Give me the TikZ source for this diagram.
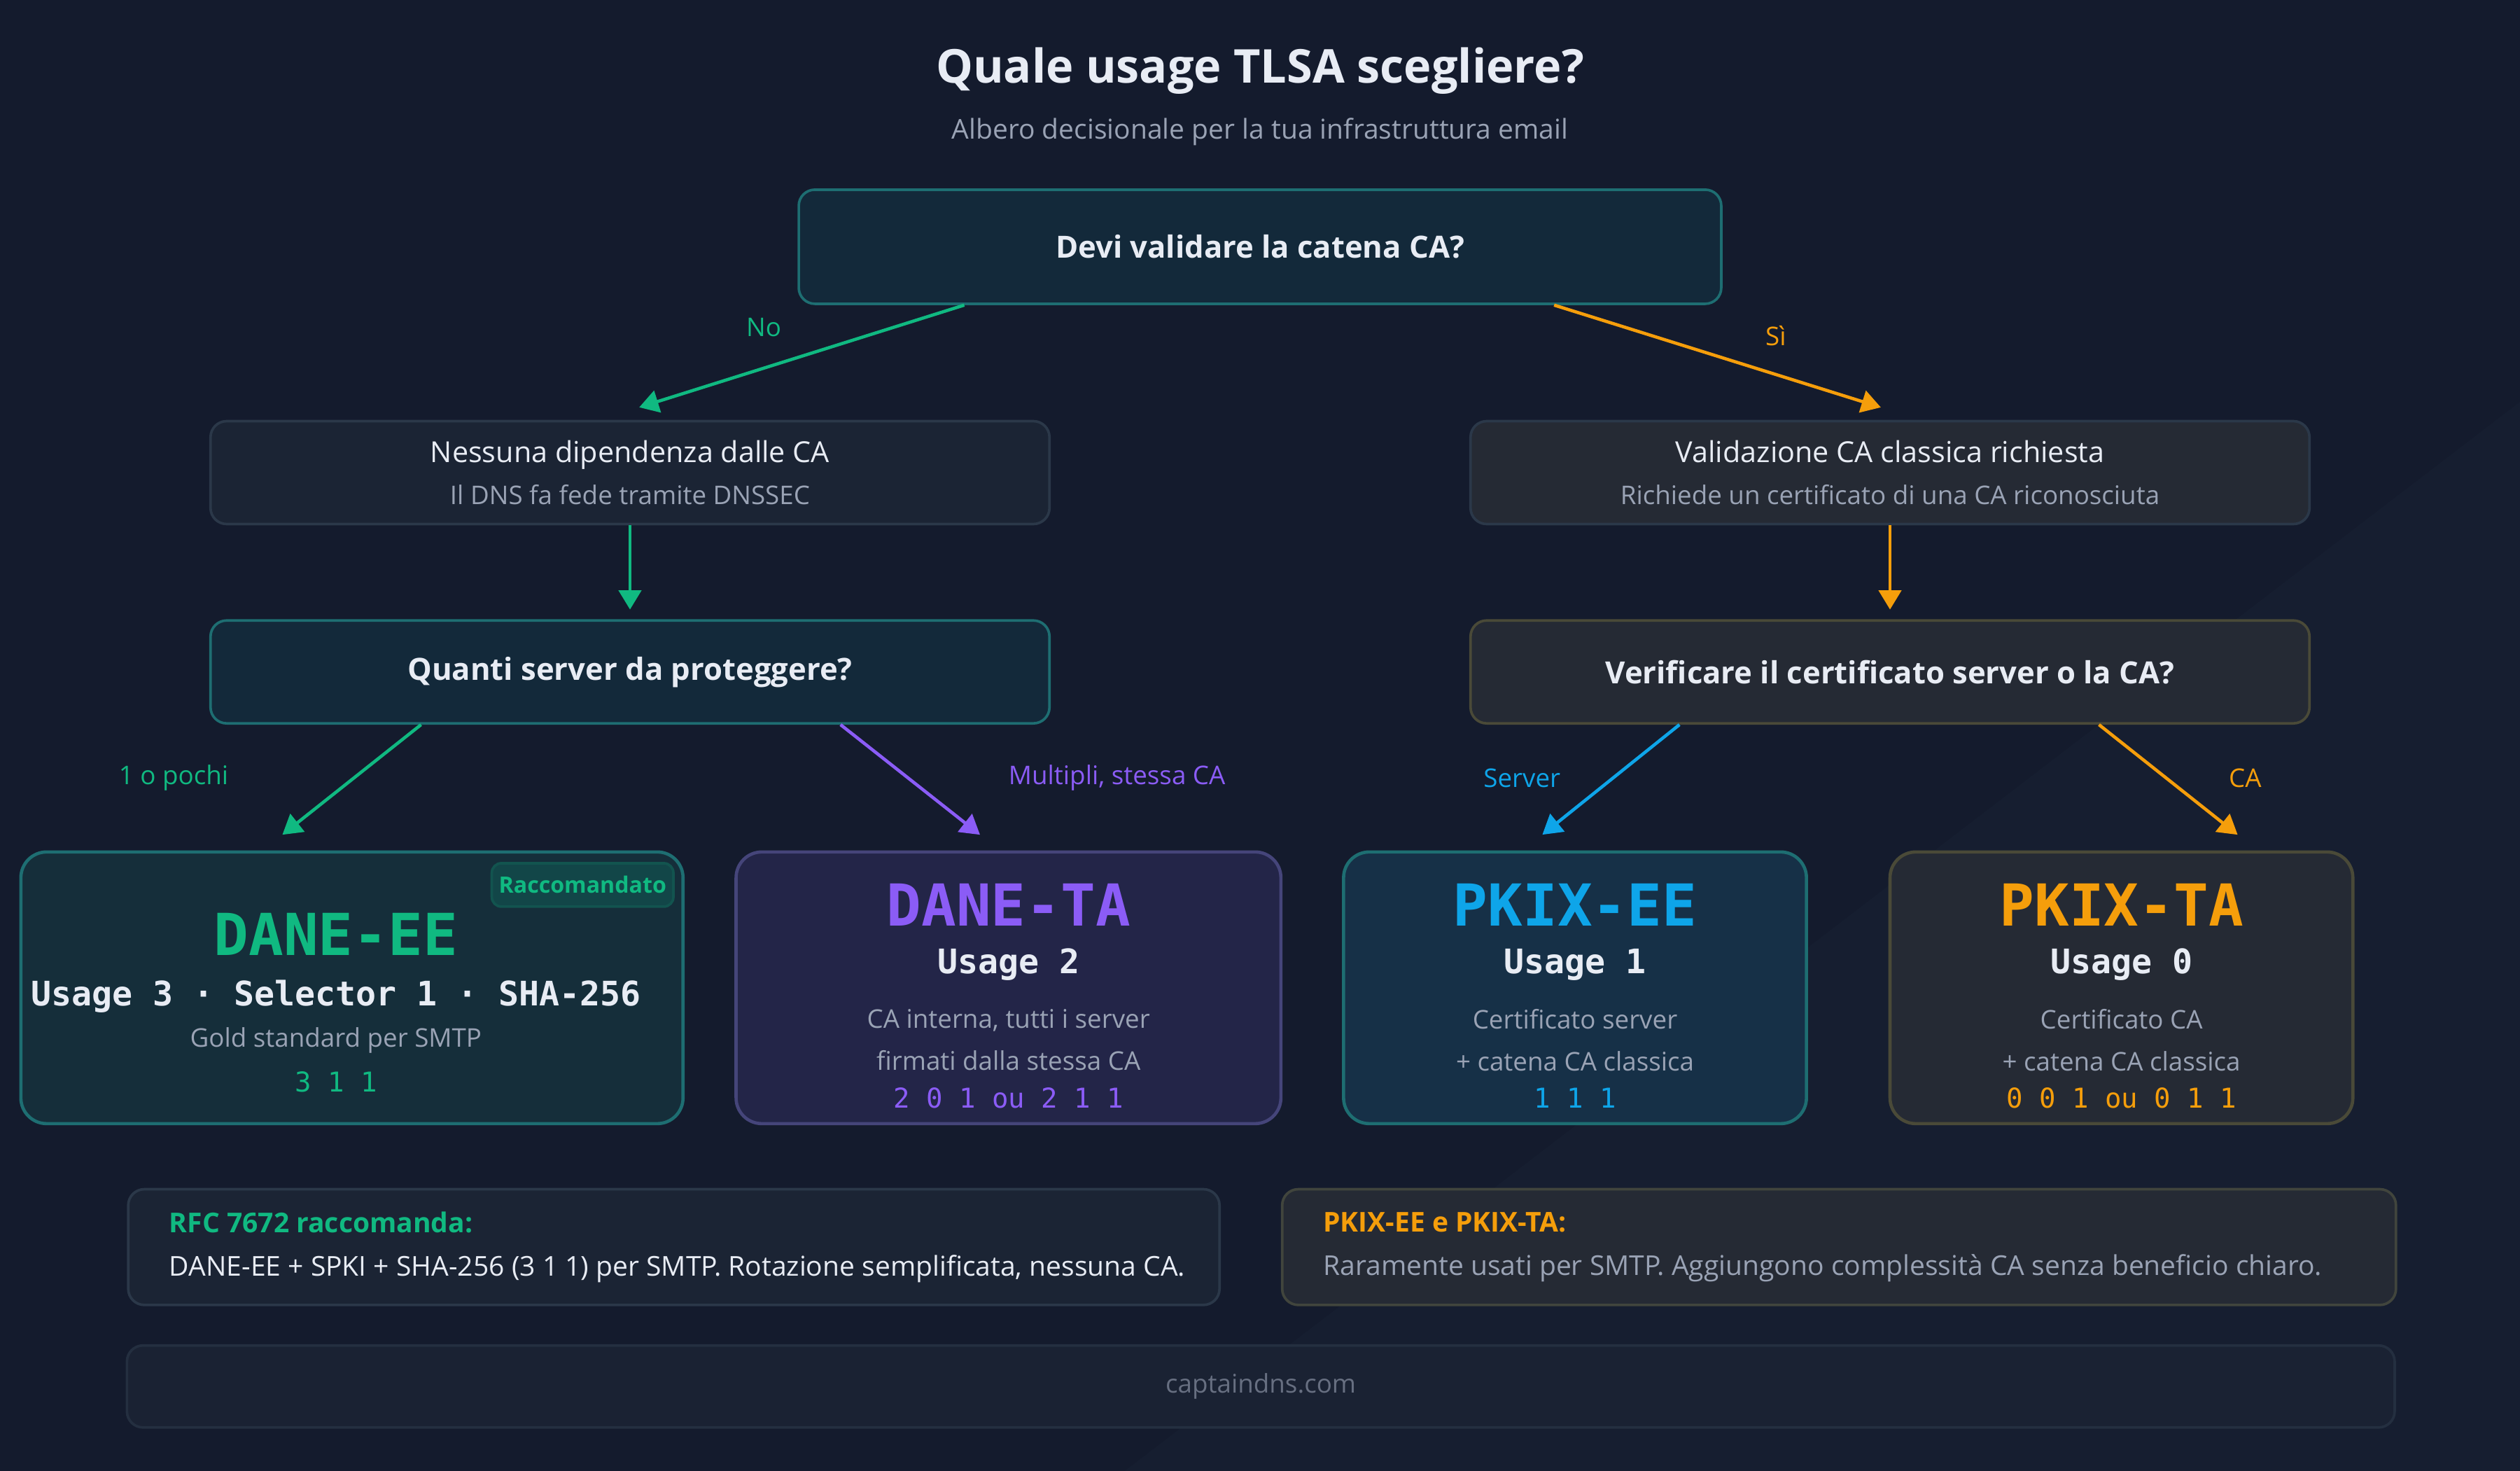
\documentclass[tikz,border=0pt]{standalone}
\usepackage{fontspec}
\setmainfont{Open Sans}
\setsansfont{Open Sans}
\setmonofont{DejaVu Sans Mono}
\usetikzlibrary{arrows.meta,calc,positioning}

\definecolor{bgtop}{HTML}{141B2D}
\definecolor{bgbot}{HTML}{1C2638}
\definecolor{txtw}{HTML}{E8ECF4}
\definecolor{txtg}{HTML}{9AA3B5}
\definecolor{cgreen}{HTML}{10B981}
\definecolor{cviolet}{HTML}{8B5CF6}
\definecolor{cblue}{HTML}{0EA5E9}
\definecolor{corange}{HTML}{F59E0B}
\definecolor{tealfill}{HTML}{13293A}
\definecolor{tealline}{HTML}{1E6E72}
\definecolor{greyfill}{HTML}{1B2434}
\definecolor{greyline}{HTML}{2B3849}
\definecolor{darkfill}{HTML}{252A34}
\definecolor{oliveline}{HTML}{4A4A38}
\definecolor{violetfill}{HTML}{232548}
\definecolor{violetline}{HTML}{45457A}
\definecolor{bluefill}{HTML}{163047}
\definecolor{eefill}{HTML}{152E3A}
\definecolor{footfill}{HTML}{1A2233}

\begin{document}
\begin{tikzpicture}[x=0.5pt,y=-0.5pt,
    box/.style={rectangle, rounded corners=5pt, line width=0.8pt, align=center, inner sep=0pt},
    question/.style={box, fill=tealfill, draw=tealline, text=txtw, font=\fontsize{9.5}{11}\selectfont\bfseries},
    info/.style={box, fill=greyfill, draw=greyline, text=txtw, font=\fontsize{9}{13}\selectfont},
    leaf/.style={box, rounded corners=8pt, line width=1pt, text=txtg, font=\fontsize{8.5}{13}\selectfont},
    tlsaname/.style={font=\ttfamily\bfseries\fontsize{18}{20}\selectfont},
    usage/.style={text=txtw, font=\ttfamily\bfseries\fontsize{10.5}{12}\selectfont},
    code/.style={font=\ttfamily\fontsize{8.5}{10}\selectfont},
    note/.style={box, anchor=north west, minimum height=36pt},
    notetext/.style={anchor=west, align=left, inner sep=0pt, font=\fontsize{8.5}{13.5}\selectfont},
    lbl/.style={font=\fontsize{8}{9}\selectfont},
    link/.style={line width=1pt, -{Triangle[length=6pt,width=7pt]}, shorten >=3pt}]

  % background
  \fill[bgtop] (0,0) rectangle (1568,915);
  \fill[bgbot, opacity=0.3] (700,915) -- (1568,250) -- (1568,915) -- cycle;
  \useasboundingbox (0,0) rectangle (1568,915);

  \node (title) [text=txtw, font=\fontsize{14.5}{16}\selectfont\bfseries] at (784,44) {Quale usage TLSA scegliere?};
  \node (subtitle) [text=txtg, font=\fontsize{8.5}{11}\selectfont] at (784,82) {Albero decisionale per la tua infrastruttura email};

  % decisions
  \node (chain) [question, minimum width=287pt, minimum height=35.5pt] at (784,153.5) {Devi validare la catena CA?};

  \node (noca) [info, minimum width=261pt, minimum height=32pt] at (392,294)
    {Nessuna dipendenza dalle CA\\{\color{txtg}\fontsize{8}{13}\selectfont Il DNS fa fede tramite DNSSEC}};
  \node (classic) [info, fill=darkfill, minimum width=261pt, minimum height=32pt] at (1176,294)
    {Validazione CA classica richiesta\\{\color{txtg}\fontsize{8}{13}\selectfont Richiede un certificato di una CA riconosciuta}};

  \node (howmany) [question, minimum width=261pt, minimum height=32pt] at (392,418) {Quanti server da proteggere?};
  \node (which) [question, fill=darkfill, draw=oliveline, minimum width=261pt, minimum height=32pt] at (1176,418) {Verificare il certificato server o la CA?};

  % leaves
  \node (daneee) [leaf, fill=eefill, draw=tealline, minimum width=206pt, minimum height=84.5pt] at (219,614.5) {};
  \node (daneta) [leaf, fill=violetfill, draw=violetline, minimum width=169.5pt, minimum height=84.5pt] at (627.5,614.5) {};
  \node (pkixee) [leaf, fill=bluefill, draw=tealline, minimum width=144pt, minimum height=84.5pt] at (980,614.5) {};
  \node (pkixta) [leaf, fill=darkfill, draw=oliveline, minimum width=144pt, minimum height=84.5pt] at (1320,614.5) {};

  \node (badge) [box, rounded corners=3pt, fill=cgreen!20!tealfill, draw=cgreen!30!tealfill, text=cgreen, minimum width=56.5pt, minimum height=13.5pt, font=\fontsize{7}{8}\selectfont\bfseries] at (362.5,550.5) {Raccomandato};

  \node (eename) [tlsaname, text=cgreen] at (209,581) {DANE-EE};
  \node (eeusage) [usage] at (209,620) {Usage 3 · Selector 1 · SHA-256};
  \node (eedesc) [text=txtg, font=\fontsize{8}{10}\selectfont] at (209,647) {Gold standard per SMTP};
  \node (eecode) [code, text=cgreen] at (209,673) {3 1 1};

  \node (taname) [tlsaname, text=cviolet] at (627.5,563) {DANE-TA};
  \node (tausage) [usage] at (627.5,600) {Usage 2};
  \node (tadesc) [text=txtg, align=center, font=\fontsize{8}{13}\selectfont] at (627.5,647) {CA interna, tutti i server\\firmati dalla stessa CA};
  \node (tacode) [code, text=cviolet] at (627.5,683) {2 0 1 ou 2 1 1};

  \node (pename) [tlsaname, text=cblue] at (980,563) {PKIX-EE};
  \node (peusage) [usage] at (980,600) {Usage 1};
  \node (pedesc) [text=txtg, align=center, font=\fontsize{8}{13}\selectfont] at (980,647) {Certificato server\\+ catena CA classica};
  \node (pecode) [code, text=cblue] at (980,683) {1 1 1};

  \node (ptname) [tlsaname, text=corange] at (1320,563) {PKIX-TA};
  \node (ptusage) [usage] at (1320,600) {Usage 0};
  \node (ptdesc) [text=txtg, align=center, font=\fontsize{8}{13}\selectfont] at (1320,647) {Certificato CA\\+ catena CA classica};
  \node (ptcode) [code, text=corange] at (1320,683) {0 0 1 ou 0 1 1};

  % connectors
  \draw[link, cgreen] ([xshift=-92pt]chain.south) -- ([yshift=3pt]noca.north) node[lbl, pos=0.6, above=6pt] {No};
  \draw[link, corange] ([xshift=91.5pt]chain.south) -- ([yshift=3pt]classic.north) node[lbl, pos=0.66, above=5pt] {Sì};
  \draw[link, cgreen] (noca) -- (howmany);
  \draw[link, corange] (classic) -- (which);
  \draw[link, cgreen] ([xshift=-65pt]howmany.south) -- ([xshift=-24pt,yshift=3pt]daneee.north);
  \draw[link, cviolet] ([xshift=65.5pt]howmany.south) -- ([xshift=-6.5pt,yshift=3pt]daneta.north);
  \draw[link, cblue] ([xshift=-65.5pt]which.south) -- ([xshift=-12.5pt,yshift=3pt]pkixee.north);
  \draw[link, corange] ([xshift=65pt]which.south) -- ([xshift=38.5pt,yshift=3pt]pkixta.north);
  \node (l1) [lbl, text=cgreen] at (108,484) {1 o pochi};
  \node (l2) [lbl, text=cviolet] at (695,484) {Multipli, stessa CA};
  \node (l3) [lbl, text=cblue] at (947,484) {Server};
  \node (l4) [lbl, text=corange] at (1397,484) {CA};

  % notes
  \node (rfc) [note, fill=greyfill, draw=greyline, minimum width=339.5pt] at (79,739) {};
  \node (rfctext) [notetext, text=txtw] at ([xshift=13pt]rfc.west)
    {{\color{cgreen}\bfseries RFC 7672 raccomanda:}\\DANE-EE + SPKI + SHA-256 (3 1 1) per SMTP. Rotazione semplificata, nessuna CA.};
  \node (pkixnote) [note, fill=darkfill, draw=oliveline!70!greyline, minimum width=346.5pt] at (797,739) {};
  \node (pkixtext) [notetext, text=txtg] at ([xshift=13pt]pkixnote.west)
    {{\color{corange}\bfseries PKIX-EE e PKIX-TA:}\\Raramente usati per SMTP. Aggiungono complessità CA senza beneficio chiaro.};

  \node (footer) [box, fill=footfill, draw=greyline!60!footfill, text=txtg!60!footfill, minimum width=705.5pt, minimum height=25.5pt, font=\fontsize{8}{10}\selectfont] at (784.5,862.5) {captaindns.com};
\end{tikzpicture}
\end{document}
